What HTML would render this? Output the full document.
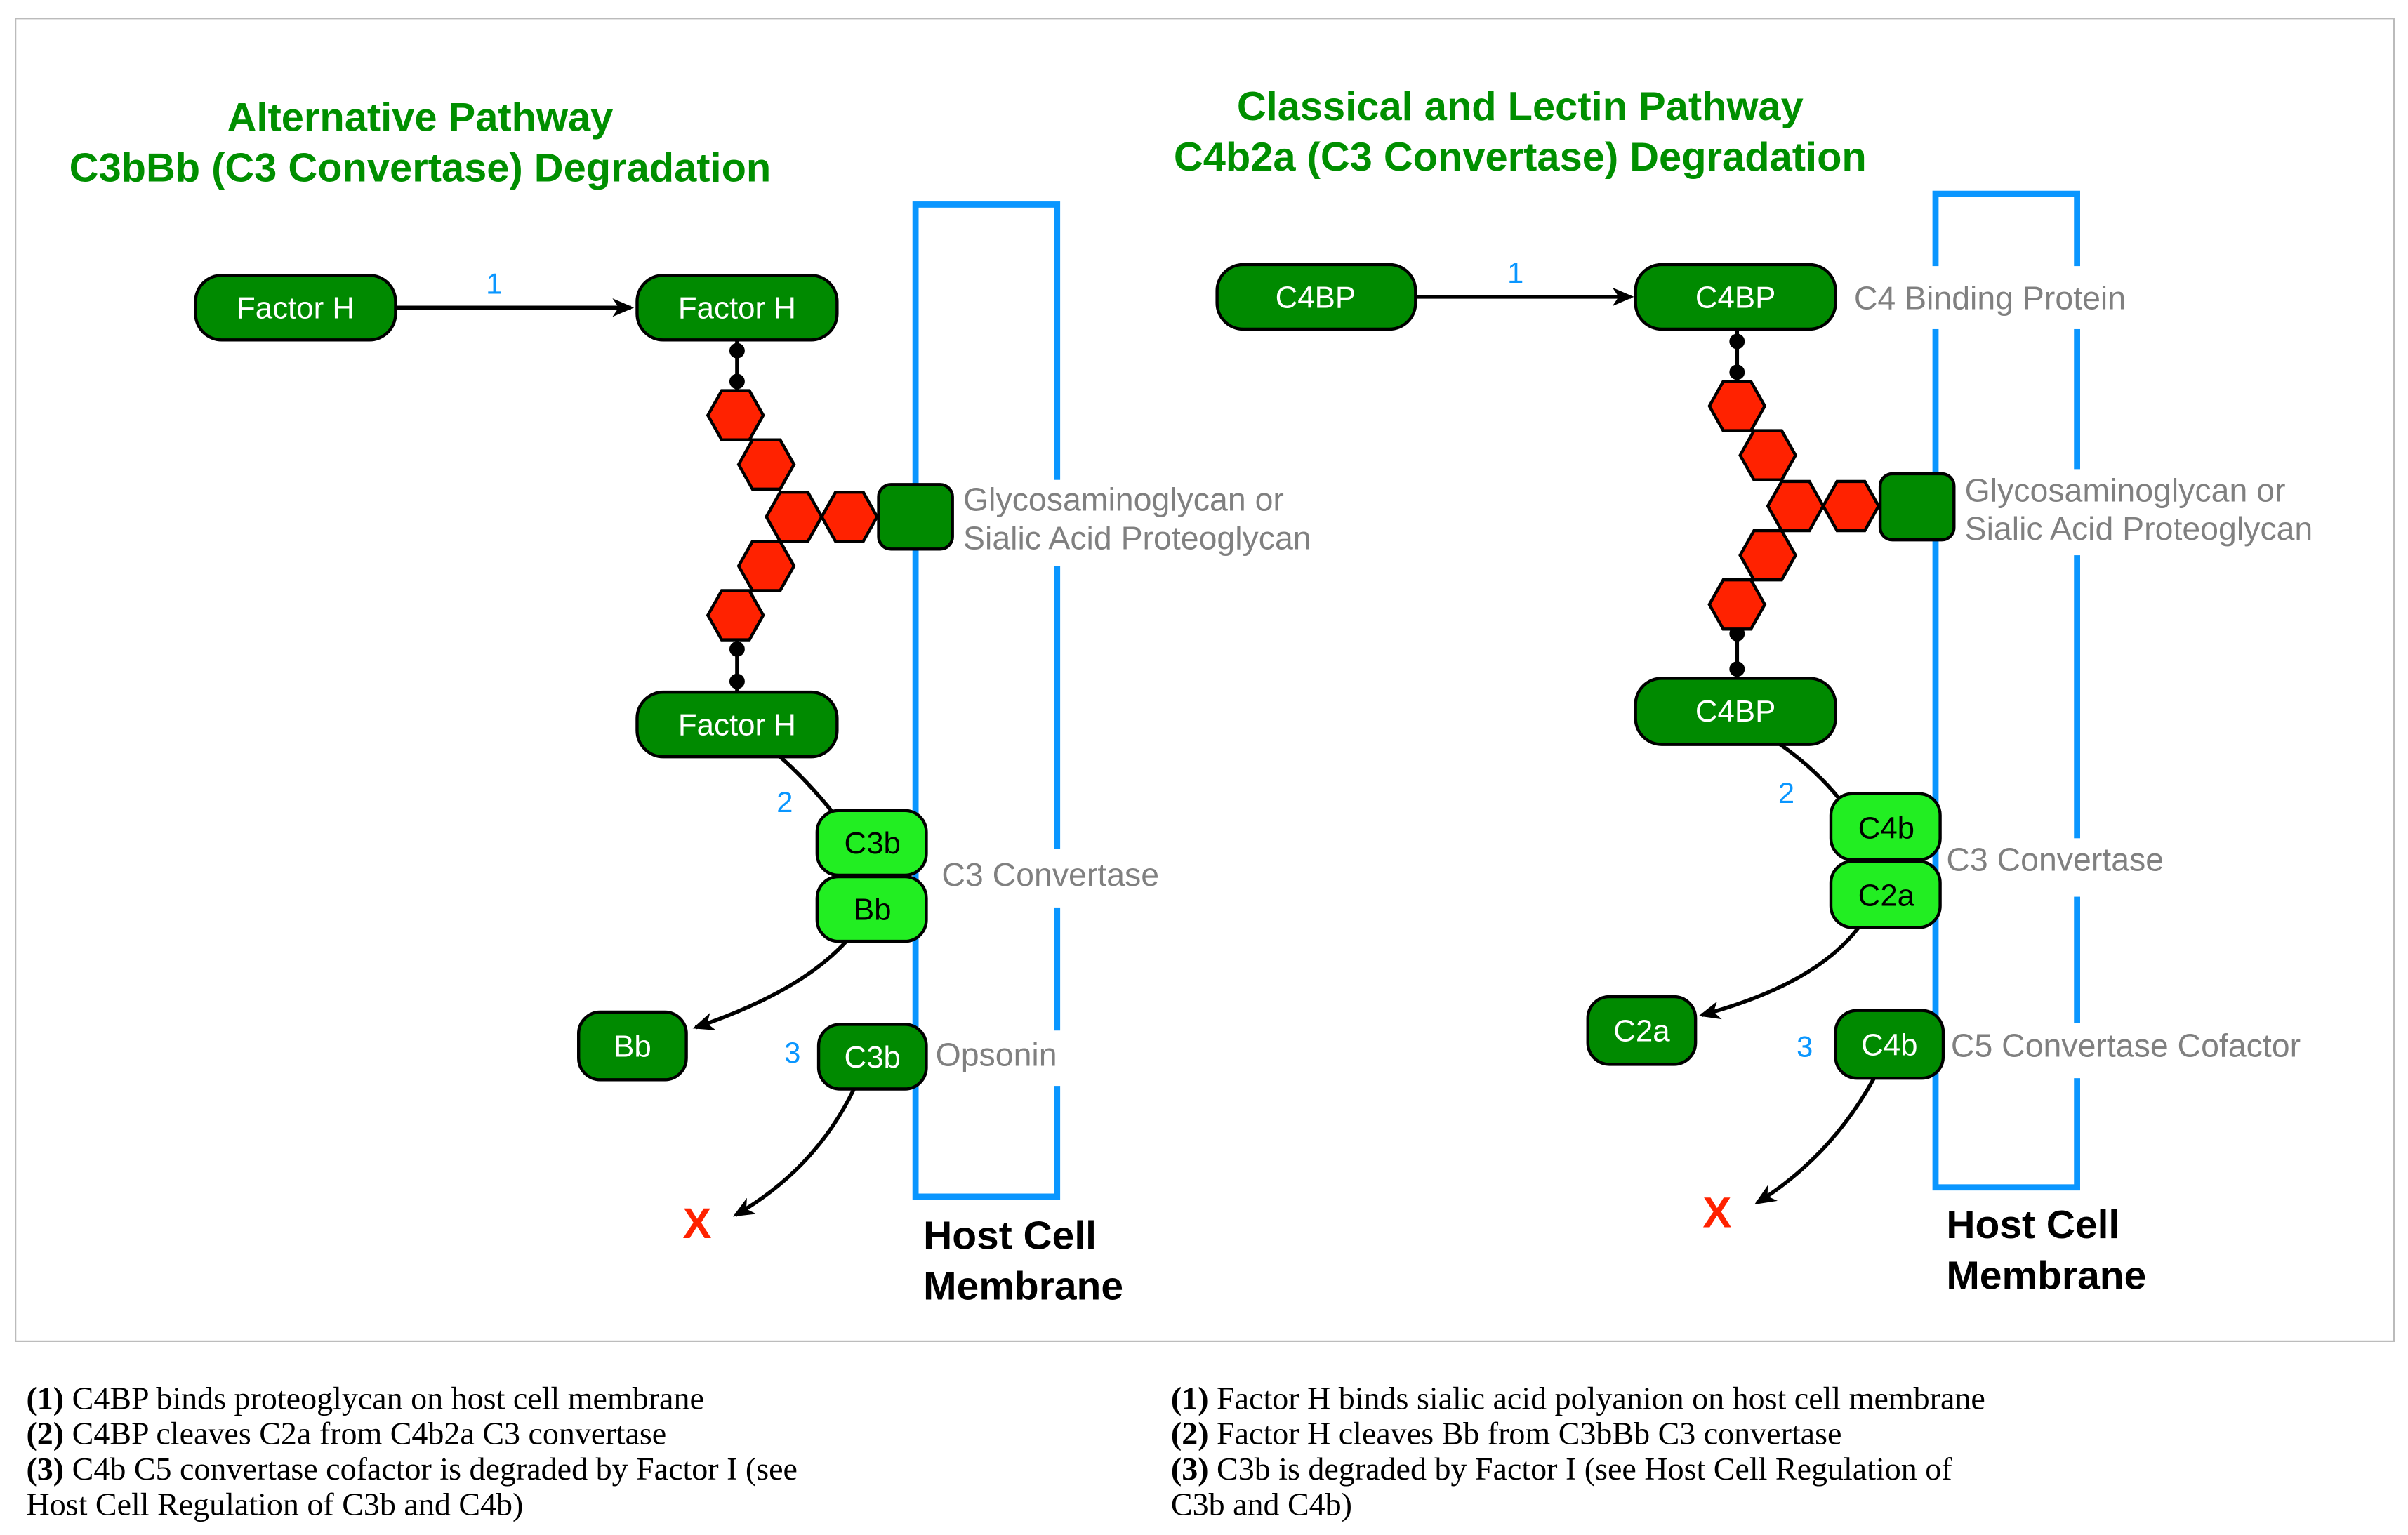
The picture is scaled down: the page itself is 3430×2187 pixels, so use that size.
<!DOCTYPE html>
<html><head><meta charset="utf-8"><style>
html,body{margin:0;padding:0;background:#fff}
svg{display:block}
</style></head><body>
<svg width="3430" height="2187" viewBox="0 0 1565 998" xmlns="http://www.w3.org/2000/svg" font-family="'Liberation Sans', sans-serif">
<defs>
<marker id="ah" markerWidth="14" markerHeight="12" refX="12" refY="6" orient="auto" markerUnits="userSpaceOnUse">
<path d="M0,0 L14,6 L0,12 L4,6 Z" fill="#000"/>
</marker>
<polygon id="hx" points="-18,0 -9,-16 9,-16 18,0 9,16 -9,16" fill="#ff2200" stroke="#000" stroke-width="2"/>
</defs>
<rect x="10" y="12" width="1546" height="860" fill="none" stroke="#bbb" stroke-width="1"/>

<g font-weight="bold" fill="#008f00" font-size="26.4" text-anchor="middle">
<text x="273" y="85">Alternative Pathway</text>
<text x="273" y="118">C3bBb (C3 Convertase) Degradation</text>
<text x="988" y="78">Classical and Lectin Pathway</text>
<text x="988" y="111">C4b2a (C3 Convertase) Degradation</text>
</g>

<!-- LEFT -->
<rect x="595" y="133" width="92" height="645" fill="none" stroke="#0a96ff" stroke-width="4"/>
<g fill="#fff"><rect x="680" y="312" width="14" height="56"/><rect x="680" y="552" width="14" height="38"/><rect x="680" y="670" width="14" height="36"/></g>

<g stroke="#000" stroke-width="2.5" fill="none">
<line x1="257" y1="200" x2="410" y2="200" marker-end="url(#ah)"/>
<line x1="479" y1="221" x2="479" y2="254"/>
<line x1="479" y1="416" x2="479" y2="450"/>
<path d="M507,492 Q525,508 541,528"/>
<path d="M550,612 Q520,645 452,668" marker-end="url(#ah)"/>
<path d="M555,708 Q530,760 478,790" marker-end="url(#ah)"/>
</g>
<g fill="#000"><circle cx="479" cy="228" r="5"/><circle cx="479" cy="248" r="5"/><circle cx="479" cy="422" r="5"/><circle cx="479" cy="443" r="5"/></g>
<use href="#hx" x="478" y="270"/><use href="#hx" x="498" y="302"/><use href="#hx" x="516" y="336"/><use href="#hx" x="552" y="336"/><use href="#hx" x="498" y="368"/><use href="#hx" x="478" y="400"/>
<rect x="571" y="315" width="48" height="42" rx="8" fill="#008a00" stroke="#000" stroke-width="2"/>

<g stroke="#000" stroke-width="2">
<rect x="127" y="179" width="130" height="42" rx="17" fill="#008a00"/>
<rect x="414" y="179" width="130" height="42" rx="17" fill="#008a00"/>
<rect x="414" y="450" width="130" height="42" rx="17" fill="#008a00"/>
<rect x="531" y="527" width="71" height="42" rx="14" fill="#22ee22"/>
<rect x="531" y="570" width="71" height="42" rx="14" fill="#22ee22"/>
<rect x="376" y="658" width="70" height="44" rx="14" fill="#008a00"/>
<rect x="532" y="666" width="70" height="42" rx="14" fill="#008a00"/>
</g>
<g font-size="20" text-anchor="middle" fill="#fff">
<text x="192" y="207">Factor H</text>
<text x="479" y="207">Factor H</text>
<text x="479" y="478">Factor H</text>
<text x="411" y="687">Bb</text>
<text x="567" y="694">C3b</text>
<g fill="#000"><text x="567" y="555">C3b</text><text x="567" y="598">Bb</text></g>
</g>
<g font-size="19" fill="#0a96ff" text-anchor="middle">
<text x="321" y="191">1</text><text x="510" y="528">2</text><text x="515" y="691">3</text>
</g>
<g font-size="21.2" fill="#808080">
<text x="626" y="332">Glycosaminoglycan or</text>
<text x="626" y="357">Sialic Acid Proteoglycan</text>
<text x="612" y="576">C3 Convertase</text>
<text x="608" y="693">Opsonin</text>
</g>
<text x="453" y="805" font-size="28" font-weight="bold" fill="#ff2200" text-anchor="middle">X</text>
<g font-size="26" font-weight="bold" fill="#000">
<text x="600" y="812">Host Cell</text><text x="600" y="845">Membrane</text>
</g>

<!-- RIGHT -->
<rect x="1258" y="126" width="92" height="646" fill="none" stroke="#0a96ff" stroke-width="4"/>
<g fill="#fff"><rect x="1200" y="173" width="190" height="41"/><rect x="1343" y="305" width="14" height="56"/><rect x="1343" y="545" width="14" height="38"/><rect x="1343" y="665" width="14" height="36"/></g>

<g stroke="#000" stroke-width="2.5" fill="none">
<line x1="920" y1="193" x2="1060" y2="193" marker-end="url(#ah)"/>
<line x1="1129" y1="214" x2="1129" y2="248"/>
<line x1="1129" y1="408" x2="1129" y2="441"/>
<path d="M1157,484 Q1180,500 1196,520"/>
<path d="M1208,603 Q1180,640 1106,660" marker-end="url(#ah)"/>
<path d="M1218,701 Q1190,752 1142,782" marker-end="url(#ah)"/>
</g>
<g fill="#000"><circle cx="1129" cy="222" r="5"/><circle cx="1129" cy="242" r="5"/><circle cx="1129" cy="412" r="5"/><circle cx="1129" cy="435" r="5"/></g>
<use href="#hx" x="1129" y="264"/><use href="#hx" x="1149" y="296"/><use href="#hx" x="1167" y="329"/><use href="#hx" x="1203" y="329"/><use href="#hx" x="1149" y="361"/><use href="#hx" x="1129" y="393"/>
<rect x="1222" y="308" width="48" height="43" rx="8" fill="#008a00" stroke="#000" stroke-width="2"/>

<g stroke="#000" stroke-width="2">
<rect x="791" y="172" width="129" height="42" rx="17" fill="#008a00"/>
<rect x="1063" y="172" width="130" height="42" rx="17" fill="#008a00"/>
<rect x="1063" y="441" width="130" height="43" rx="17" fill="#008a00"/>
<rect x="1190" y="516" width="71" height="43" rx="14" fill="#22ee22"/>
<rect x="1190" y="560" width="71" height="43" rx="14" fill="#22ee22"/>
<rect x="1032" y="648" width="70" height="44" rx="14" fill="#008a00"/>
<rect x="1193" y="657" width="70" height="44" rx="14" fill="#008a00"/>
</g>
<g font-size="20" text-anchor="middle" fill="#fff">
<text x="855" y="200">C4BP</text>
<text x="1128" y="200">C4BP</text>
<text x="1128" y="469">C4BP</text>
<text x="1067" y="677">C2a</text>
<text x="1228" y="686">C4b</text>
<g fill="#000"><text x="1226" y="545">C4b</text><text x="1226" y="589">C2a</text></g>
</g>
<g font-size="19" fill="#0a96ff" text-anchor="middle">
<text x="985" y="184">1</text><text x="1161" y="522">2</text><text x="1173" y="687">3</text>
</g>
<g font-size="21.2" fill="#808080">
<text x="1205" y="201">C4 Binding Protein</text>
<text x="1277" y="326">Glycosaminoglycan or</text>
<text x="1277" y="351">Sialic Acid Proteoglycan</text>
<text x="1265" y="566">C3 Convertase</text>
<text x="1268" y="687">C5 Convertase Cofactor</text>
</g>
<text x="1116" y="798" font-size="28" font-weight="bold" fill="#ff2200" text-anchor="middle">X</text>
<g font-size="26" font-weight="bold" fill="#000">
<text x="1265" y="805">Host Cell</text><text x="1265" y="838">Membrane</text>
</g>

<g font-family="'Liberation Serif', serif" font-size="21" fill="#000">
<text x="17" y="916"><tspan font-weight="bold">(1)</tspan> C4BP binds proteoglycan on host cell membrane</text>
<text x="17" y="939"><tspan font-weight="bold">(2)</tspan> C4BP cleaves C2a from C4b2a C3 convertase</text>
<text x="17" y="962"><tspan font-weight="bold">(3)</tspan> C4b C5 convertase cofactor is degraded by Factor I (see</text>
<text x="17" y="985">Host Cell Regulation of C3b and C4b)</text>
<text x="761" y="916"><tspan font-weight="bold">(1)</tspan> Factor H binds sialic acid polyanion on host cell membrane</text>
<text x="761" y="939"><tspan font-weight="bold">(2)</tspan> Factor H cleaves Bb from C3bBb C3 convertase</text>
<text x="761" y="962"><tspan font-weight="bold">(3)</tspan> C3b is degraded by Factor I (see Host Cell Regulation of</text>
<text x="761" y="985">C3b and C4b)</text>
</g>
</svg>
</body></html>
